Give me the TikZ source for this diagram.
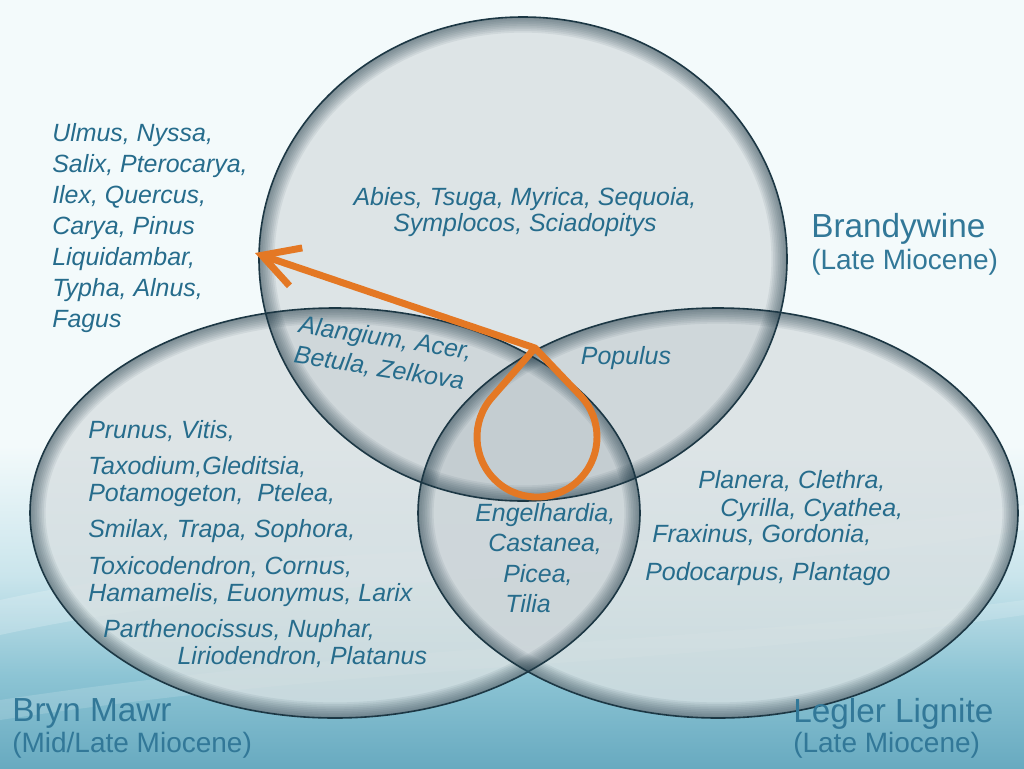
\documentclass[tikz,border=0pt]{standalone}
\usepackage{fontspec}
\setmainfont{Liberation Sans}
\usetikzlibrary{arrows.meta}
\definecolor{bgtop}{RGB}{243,250,251}
\definecolor{bgmid}{RGB}{202,229,236}
\definecolor{bglow}{RGB}{140,196,212}
\definecolor{bgbot}{RGB}{104,170,192}
\definecolor{ellfill}{RGB}{232,238,239}
\definecolor{ellshade}{RGB}{70,95,105}
\definecolor{rimcol}{RGB}{28,55,68}
\definecolor{taxblue}{RGB}{38,108,140}
\definecolor{siteblue}{RGB}{50,120,152}
\definecolor{loopor}{RGB}{228,120,36}
% the path box is fitted to 25bp--75bp of the shading
\pgfdeclareverticalshading{bgshade}{100bp}{color(0bp)=(bgbot); color(25bp)=(bgbot); color(31bp)=(bglow); color(37.5bp)=(bgmid); color(46bp)=(bgtop); color(100bp)=(bgtop)}
\begin{document}
\begin{tikzpicture}[x=0.75pt,y=-0.75pt,
		taxa/.style={font=\fontsize{18.7}{#1}\selectfont\itshape,text=taxblue,inner sep=0pt,align=left},
		taxa/.default=19.9,
		site/.style={font=\fontsize{25}{28}\selectfont,text=siteblue,inner sep=0pt,anchor=north west},
		epoch/.style={font=\fontsize{21}{24}\selectfont,text=siteblue,inner sep=0pt,anchor=north west},
		loopline/.style={draw=loopor,line width=5.2pt,line join=round,line cap=round}]
	\useasboundingbox (0,0) rectangle (1024,768);
	\shade[shading=bgshade] (0,0) rectangle (1024,768);
	\fill[white,opacity=0.2] (0,600) .. controls (320,530) and (700,560) .. (1024,505) -- (1024,530) .. controls (700,585) and (320,565) .. (0,635) -- cycle;
	\fill[white,opacity=0.15] (0,700) .. controls (400,640) and (650,650) .. (1024,600) -- (1024,615) .. controls (650,670) and (400,660) .. (0,720) -- cycle;
	\def\ellset{523/259/264/242,335/513/305/205,718/513/300/205}%Brandywine, Bryn Mawr, Legler
	\foreach \cx/\cy/\rx/\ry in \ellset
		\fill[ellfill,fill opacity=0.8] (\cx,\cy) ellipse ({\rx} and {\ry});
	\foreach \cx/\cy/\rx/\ry in \ellset
		\fill[ellshade,fill opacity=0.08] (\cx,\cy) ellipse ({\rx} and {\ry});
	\foreach \cx/\cy/\rx/\ry in \ellset{
		\begin{scope}
			\clip (\cx,\cy) ellipse ({\rx} and {\ry});
			\foreach \w in {1,...,9}
				\draw[rimcol,opacity=0.07,line width={2.6pt*\w}] (\cx,\cy) ellipse ({\rx} and {\ry});
		\end{scope}
	}
	\foreach \cx/\cy/\rx/\ry in \ellset
		\draw[rimcol,line width=1.2pt] (\cx,\cy) ellipse ({\rx} and {\ry});
	\node[taxa=23.25,anchor=north west] (outer) at (52,123) {Ulmus, Nyssa,\\Salix, Pterocarya,\\Ilex, Quercus,\\Carya, Pinus\\Liquidambar,\\Typha, Alnus,\\Fagus};
	\node[taxa=19.5,align=center,anchor=north] (brandyonly) at (525,187) {Abies, Tsuga, Myrica, Sequoia,\\Symplocos, Sciadopitys};
	\node[taxa=23,rotate=-9] (topleft) at (383,354) {Alangium, Acer,\\Betula, Zelkova};
	\node[taxa] (topright) at (626,358) {Populus};
	\node[taxa=22.9,anchor=north west] (lower) at (475,503) {Engelhardia,\\\hspace*{9.75pt}Castanea,\\\hspace*{21pt}Picea,\\\hspace*{22.5pt}Tilia};
	\node[taxa,anchor=north west] (brynonly) at (88,420) {Prunus, Vitis,\\[7.5pt]Taxodium,Gleditsia,\\Potamogeton,\ \ Ptelea,\\[7.5pt]Smilax, Trapa, Sophora,\\[7.5pt]Toxicodendron, Cornus,\\Hamamelis, Euonymus, Larix\\[7.5pt]\hspace*{11.25pt}Parthenocissus, Nuphar,\\\hspace*{67pt}Liriodendron, Platanus};
	\node[taxa,anchor=north west] (leglonly) at (645,470) {\hspace*{39.75pt}Planera, Clethra,\\[1.5pt]\hspace*{56.25pt}Cyrilla, Cyathea,\\[-0.75pt]\hspace*{5.25pt}Fraxinus, Gordonia,\\[9pt]Podocarpus, Plantago};
	\node[site] (brandywine) at (811,213) {Brandywine};
	\node[epoch] (brandywineage) at (811,249) {(Late Miocene)};
	\node[site] (brynmawr) at (12,698) {Bryn Mawr};
	\node[epoch] (brynmawrage) at (12,732) {(Mid/Late Miocene)};
	\node[site] (legler) at (793,698) {Legler Lignite};
	\node[epoch] (leglerage) at (793,732) {(Late Miocene)};
	% teardrop: circle round (537,437), r=60, with tangents from the knot
	\coordinate (knot) at (535,348);
	\coordinate (tip) at (255,253);
	\draw[loopline,-{Straight Barb[length=27pt,width=30pt]}] (knot) -- (492.7,396.6) arc[start angle=222.4,end angle=-42.4,radius=60] -- (knot) -- (tip);
\end{tikzpicture}
\end{document}
